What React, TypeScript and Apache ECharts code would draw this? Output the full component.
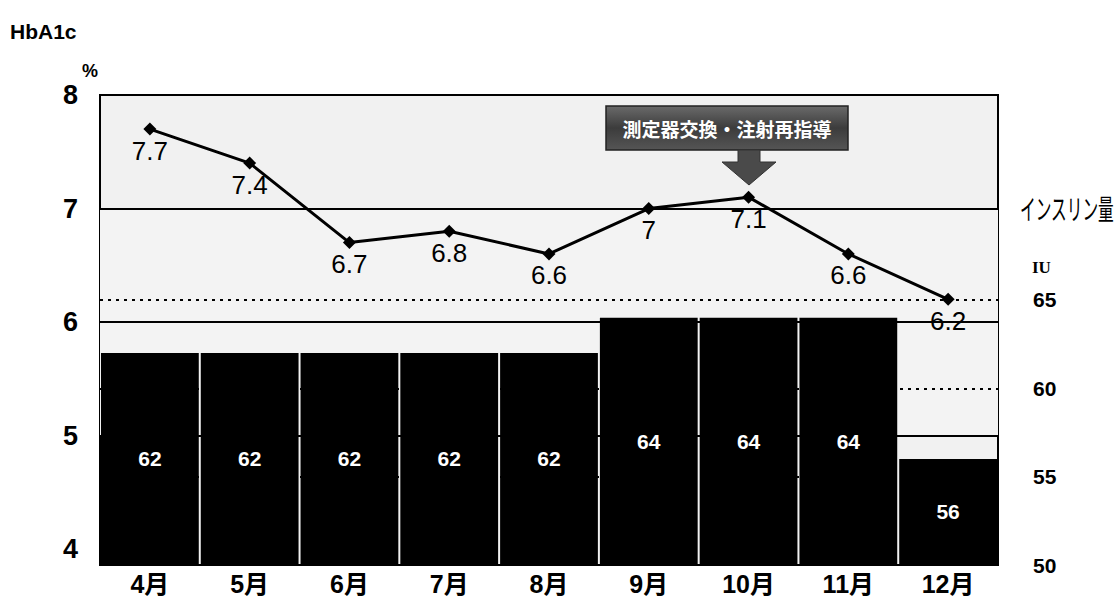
import React, { useEffect, useRef } from "react";
import * as echarts from "echarts";

const categories = ["4月", "5月", "6月", "7月", "8月", "9月", "10月", "11月", "12月"];
const hba1cValues = [7.7, 7.4, 6.7, 6.8, 6.6, 7, 7.1, 6.6, 6.2];
const insulinValues = [62, 62, 62, 62, 62, 64, 64, 64, 56];
const leftTickLabels = [4, 5, 6, 7, 8];
const leftGridValues = [5, 6, 7];
const rightTickLabels = [50, 55, 60, 65];
const rightGridValues = [55, 60, 65];
const annotationText = "測定器交換・注射再指導";

const LATIN = "'Liberation Sans', Arial, sans-serif";
const JP = "'Liberation Sans', 'Noto Sans CJK JP', sans-serif";

export default function App() {
  const ref = useRef<HTMLDivElement>(null);
  useEffect(() => {
    if (!ref.current) return;
    const chart = echarts.init(ref.current, null, { renderer: "svg" });
    chart.setOption({
      animation: false,
      backgroundColor: "#ffffff",
      grid: {
        left: 100,
        right: 116,
        top: 95,
        bottom: 35,
        show: true,
        backgroundColor: "#f1f1f1",
        borderColor: "#000",
        borderWidth: 2,
      },
      xAxis: {
        type: "category",
        data: categories,
        axisLine: { show: true, lineStyle: { color: "#000", width: 2, type: [3, 3] } },
        axisTick: { show: false },
        axisLabel: {
          color: "#000",
          fontSize: 25,
          fontWeight: "bold",
          fontFamily: JP,
          margin: 6,
        },
      },
      yAxis: [
        {
          type: "value",
          min: 3.86,
          max: 8,
          position: "left",
          axisLine: { show: false },
          axisTick: { show: false, customValues: leftGridValues },
          axisLabel: {
            customValues: leftTickLabels,
            color: "#000",
            fontSize: 27,
            fontWeight: "bold",
            fontFamily: LATIN,
            margin: 22,
          },
          splitLine: { show: true, lineStyle: { color: "#000", width: 2 } },
          splitArea: {
            show: true,
            areaStyle: { color: ["#f3f3f3", "#f3f3f3", "#f1f1f1", "#e7e7e7"] },
          },
        },
        {
          type: "value",
          min: 50,
          max: 76.6,
          position: "right",
          axisLine: { show: false },
          axisTick: { show: false, customValues: rightGridValues },
          axisLabel: {
            customValues: rightTickLabels,
            color: "#000",
            fontSize: 21,
            fontWeight: "bold",
            fontFamily: LATIN,
            margin: 35,
          },
          splitLine: { show: true, lineStyle: { color: "#000", width: 2, type: [3, 5] } },
        },
      ],
      series: [
        {
          type: "bar",
          yAxisIndex: 1,
          data: insulinValues,
          barWidth: "98%",
          itemStyle: { color: "#000" },
          label: {
            show: true,
            position: "inside",
            color: "#fff",
            fontSize: 21,
            fontWeight: "bold",
            fontFamily: LATIN,
          },
          z: 2,
        },
        {
          type: "line",
          yAxisIndex: 0,
          data: hba1cValues,
          symbol: "diamond",
          symbolSize: 13,
          itemStyle: { color: "#000" },
          lineStyle: { color: "#000", width: 3 },
          label: {
            show: true,
            position: "bottom",
            distance: 2,
            color: "#000",
            fontSize: 26,
            fontFamily: LATIN,
          },
          z: 5,
        },
      ],
      graphic: [
        {
          type: "text",
          left: 10,
          top: 21,
          style: { text: "HbA1c", fill: "#000", font: `bold 21px ${LATIN}` },
        },
        {
          type: "text",
          left: 82,
          top: 62,
          style: { text: "%", fill: "#000", font: `bold 18px ${LATIN}` },
        },
        {
          type: "text",
          x: 1020,
          y: 194,
          scaleX: 0.56,
          style: { text: "インスリン量", fill: "#000", font: `28px 'Noto Sans CJK JP', sans-serif` },
        },
        {
          type: "text",
          left: 1032,
          top: 259,
          style: { text: "IU", fill: "#000", font: `bold 17px 'Liberation Serif', serif` },
        },
        {
          type: "group",
          z: 100,
          children: [
            {
              type: "rect",
              shape: { x: 606, y: 106, width: 242, height: 44 },
              style: {
                fill: new echarts.graphic.LinearGradient(0, 0, 0, 1, [
                  { offset: 0, color: "#6a6a6a" },
                  { offset: 0.5, color: "#3c3c3c" },
                  { offset: 1, color: "#555" },
                ]),
                stroke: "#222",
                lineWidth: 1.5,
              },
            },
            {
              type: "polygon",
              shape: {
                points: [
                  [738, 150],
                  [760, 150],
                  [760, 162],
                  [776, 162],
                  [749, 185],
                  [722, 162],
                  [738, 162],
                ],
              },
              style: { fill: "#4a4a4a", stroke: "#333", lineWidth: 1 },
            },
            {
              type: "text",
              x: 727,
              y: 128,
              style: {
                text: annotationText,
                fill: "#fff",
                font: `bold 19px 'Noto Sans CJK JP', sans-serif`,
                align: "center",
                verticalAlign: "middle",
              },
            },
          ],
        },
      ],
    });
    return () => chart.dispose();
  }, []);
  return (
    <div
      ref={ref}
      style={{ position: "absolute", left: 0, top: 0, width: 1114, height: 600 }}
    />
  );
}
